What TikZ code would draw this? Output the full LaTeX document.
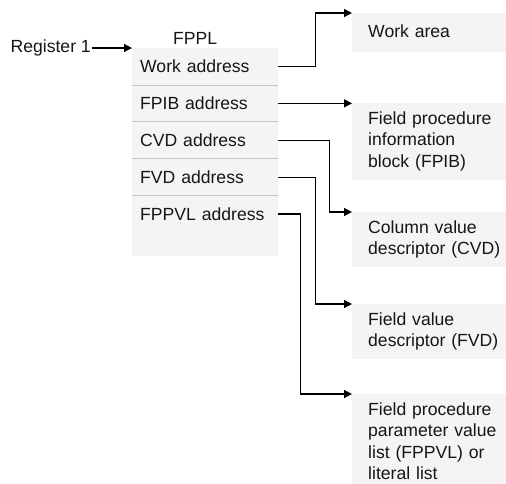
\documentclass[tikz,border=0pt]{standalone}
\usepackage{fontspec}
\setmainfont{Liberation Sans}
\usetikzlibrary{arrows.meta,positioning}
\definecolor{boxgray}{HTML}{F4F4F4}
\definecolor{rulegray}{HTML}{C6C6C6}
\definecolor{inkgray}{HTML}{161616}

\begin{document}
\begin{tikzpicture}[x=1pt, y=-1pt, node distance=0pt,
  every node/.style={font=\fontsize{17.6}{21.5}\selectfont, text=inkgray},
  fieldrow/.style={anchor=north west, minimum height=36.5pt, text width=130pt, inner xsep=8pt, inner ysep=0pt},
  target/.style={anchor=north west, fill=boxgray, text width=138pt, inner xsep=16pt, inner ysep=6pt,
    minimum height=39pt, align=left, execute at begin node=\strut, execute at end node=\strut},
  link/.style={-{Triangle[length=8pt,width=8pt]}, line width=1.2pt, black}]
  \useasboundingbox (0,0) rectangle (506,483);

  % parameter list block
  \node[fill=boxgray, anchor=north west, minimum width=146pt, minimum height=208pt, inner sep=0pt] (fppl) at (132,48) {};
  \node[above=0pt of fppl.north, xshift=-10pt] (fppltitle) {FPPL};
  \node[fieldrow] (work) at (fppl.north west) {Work address};
  \node[fieldrow, below=of work] (fpib) {FPIB address};
  \node[fieldrow, below=of fpib] (cvd) {CVD address};
  \node[fieldrow, below=of cvd] (fvd) {FVD address};
  \node[fieldrow, below=of fvd] (fppvl) {FPPVL address};
  \foreach \r in {work,fpib,cvd,fvd}
    \draw[rulegray, line width=0.8pt] (\r.south west) -- (\r.south east);

  % register pointer
  \node[left=40pt of fppl.north west, inner xsep=1pt] (reg) {Register 1};
  \draw[link] (reg) -- (fppl.north west);

  % areas pointed to
  \node[target] (workarea) at (352,13) {Work area};
  \node[target] (fpibbox) at (352,103) {Field procedure\\information\\block (FPIB)};
  \node[target] (cvdbox) at (352,212) {Column value\\descriptor (CVD)};
  \node[target] (fvdbox) at (352,304) {Field value\\descriptor (FVD)};
  \node[target] (fppvlbox) at (352,394) {Field procedure\\parameter value\\list (FPPVL) or\\literal list};

  % pointers
  \draw[link] (work.east) -- ++(37,0) |- (workarea.north west);
  \draw[link] (fpib.east) -- (fpib.east -| fpibbox.west);
  \draw[link] (cvd.east) -- ++(51,0) |- (cvdbox.north west);
  \draw[link] (fvd.east) -- ++(37,0) |- (fvdbox.north west);
  \draw[link] (fppvl.east) -- ++(22,0) |- (fppvlbox.north west);
\end{tikzpicture}
\end{document}
